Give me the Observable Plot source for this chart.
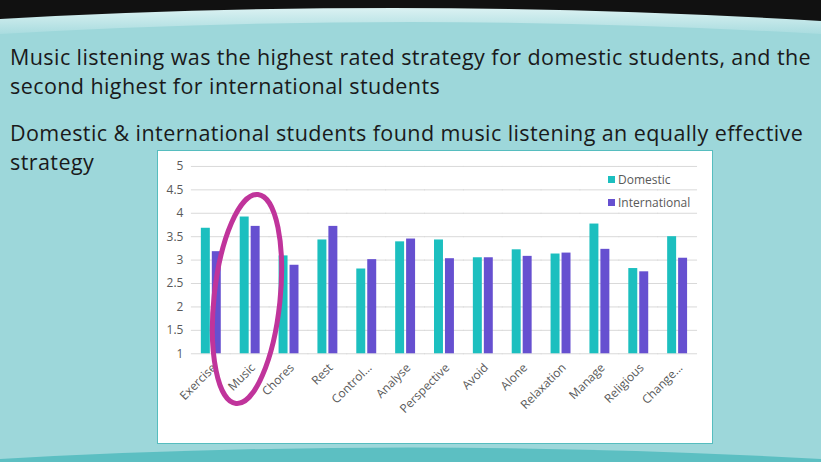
<!DOCTYPE html>
<html>
<head>
<meta charset="utf-8">
<script src="https://cdn.jsdelivr.net/npm/d3@7"></script>
<script src="https://cdn.jsdelivr.net/npm/@observablehq/plot@0.6"></script>
<style>
  html, body { margin: 0; padding: 0; }
  body { width: 821px; height: 462px; position: relative; overflow: hidden; background: #9dd7da; font-family: "Open Sans", "Noto Sans", sans-serif; }
  #bg { position: absolute; left: 0; top: 0; }
  .para { position: absolute; left: 10px; font-size: 21.5px; letter-spacing: 0.42px; line-height: 29px; color: #1a1a1a; white-space: nowrap; }
  #chartbox { position: absolute; left: 157px; top: 150px; width: 554px; height: 292px; background: #ffffff; border: 1px solid #56bdbf; }
  #chartbox svg { position: absolute; left: 0; top: 0; }
  .legend { position: absolute; left: 450px; font-size: 12px; color: #595959; font-family: "Open Sans", sans-serif; white-space: nowrap; }
  .legend span.sw { display: inline-block; width: 7px; height: 7px; margin-right: 3px; vertical-align: 1px; }
  #anno { position: absolute; left: 0; top: 0; pointer-events: none; }
</style>
</head>
<body>
<svg id="bg" width="821" height="462">
  <defs>
    <linearGradient id="pale" x1="0" y1="0" x2="0" y2="1">
      <stop offset="0" stop-color="#eaf8f8"/>
      <stop offset="1" stop-color="#a9dcdf"/>
    </linearGradient>
  </defs>
  <rect width="821" height="462" fill="#9dd7da"/>
  <path d="M0,0 H821 V34 Q410,10 0,34 Z" fill="url(#pale)"/>
  <path d="M0,0 H821 V21 Q410,-4 0,19 Z" fill="#111111"/>
  <path d="M0,462 V459 Q410,436 821,459 V462 Z" fill="#5cbfc2"/>
</svg>

<div class="para" style="top:42px">Music listening was the highest rated strategy for domestic students, and the<br>second highest for international students</div>
<div class="para" style="top:118px">Domestic &amp; international students found music listening an equally effective<br>strategy</div>

<div id="chartbox">
  <div id="plot"></div>
  <div class="legend" style="top:20px"><span class="sw" style="background:#1cbfbf"></span>Domestic</div>
  <div class="legend" style="top:43px"><span class="sw" style="background:#6650d0"></span>International</div>
</div>

<svg id="anno" width="821" height="462">
  <ellipse cx="247" cy="299" rx="33" ry="105" transform="rotate(6 247 299)" fill="none" stroke="#c0349b" stroke-width="5"/>
</svg>

<script>
const categories = ["Exercise", "Music", "Chores", "Rest", "Control...", "Analyse", "Perspective", "Avoid", "Alone", "Relaxation", "Manage", "Religious", "Change..."];
const series = ["Domestic", "International"];
const domestic = [3.68, 3.92, 3.09, 3.43, 2.81, 3.39, 3.43, 3.05, 3.22, 3.13, 3.77, 2.82, 3.50];
const international = [3.18, 3.72, 2.89, 3.72, 3.01, 3.45, 3.03, 3.05, 3.08, 3.15, 3.23, 2.75, 3.04];
const yTicks = [1, 1.5, 2, 2.5, 3, 3.5, 4, 4.5, 5];
const colors = ["#1cbfbf", "#6650d0"];

const data = [];
categories.forEach((c, i) => {
  data.push({category: c, series: series[0], value: domestic[i]});
  data.push({category: c, series: series[1], value: international[i]});
});

const chart = Plot.plot({
  width: 556,
  height: 294,
  marginLeft: 33,
  marginRight: 15,
  marginTop: 15,
  marginBottom: 91,
  style: {fontFamily: "'Open Sans', sans-serif", fontSize: "12px", background: "transparent", overflow: "visible"},
  fx: {domain: categories, paddingInner: 0.49, paddingOuter: 0.25, label: null},
  x: {domain: series, paddingInner: 0.2, paddingOuter: 0, axis: null},
  y: {domain: [1, 5], label: null},
  color: {domain: series, range: colors},
  marks: [
    Plot.ruleY(yTicks, {stroke: "#d9d9d9", strokeWidth: 1, insetLeft: -10, insetRight: -10}),
    Plot.barY(data, {fx: "category", x: "series", y1: 1, y2: "value", fill: "series"}),
    Plot.axisY(yTicks, {tickSize: 0, tickPadding: 18, fill: "#595959", fontSize: 12, label: null, tickFormat: d => String(d)}),
    Plot.axisFx({anchor: "bottom", tickRotate: -45, tickSize: 0, tickPadding: 12, dx: 3, fill: "#595959", fontSize: 12, label: null})
  ]
});
document.getElementById("plot").appendChild(chart);
</script>
</body>
</html>
